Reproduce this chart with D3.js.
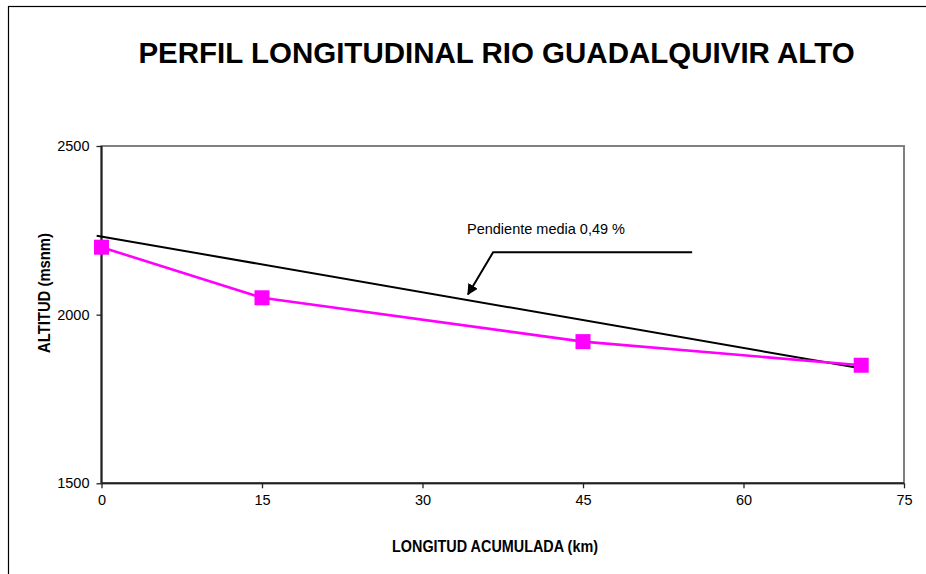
<!DOCTYPE html>
<html>
<head>
<meta charset="utf-8">
<script src="https://cdn.jsdelivr.net/npm/d3@7"></script>
<style>
  html, body { margin: 0; padding: 0; background: #fff; }
  svg { display: block; font-family: "Liberation Sans", Arial, sans-serif; }
</style>
</head>
<body>
<svg id="chart" width="926" height="574"></svg>
<script>
// ---- Data ----
const title = "PERFIL LONGITUDINAL RIO GUADALQUIVIR ALTO";
const xLabel = "LONGITUD ACUMULADA (km)";
const yLabel = "ALTITUD (msnm)";
const distanceKm = [0, 15, 45, 71];
const altitude = [2200, 2050, 1920, 1850];
const trendX = [-0.45, 70.4];
const trendY = [2234, 1844];
const xTicks = [0, 15, 30, 45, 60, 75];
const yTicks = [1500, 2000, 2500];
const annotationText = "Pendiente media 0,49 %";
const annotationPathX = [55.2, 36.6, 34.25];
const annotationPathY = [2185, 2185, 2060];

// ---- Layout ----
const svg = d3.select("#chart");
const pL = 101.5, pR = 904, pT = 146, pB = 483.3;

const x = d3.scaleLinear().domain([0, 75]).range([pL, pR]);
const y = d3.scaleLinear().domain([1500, 2500]).range([pB, pT]);

// outer frame
svg.append("rect")
  .attr("x", 8.5).attr("y", 6.5)
  .attr("width", 940).attr("height", 600)
  .attr("fill", "none").attr("stroke", "#000").attr("stroke-width", 1.2);

// title
svg.append("text")
  .attr("x", 496.5).attr("y", 63)
  .attr("text-anchor", "middle")
  .attr("font-size", 29.5).attr("font-weight", "bold")
  .attr("fill", "#000")
  .text(title);

// plot frame (gray top/right)
svg.append("rect")
  .attr("x", pL).attr("y", pT)
  .attr("width", pR - pL).attr("height", pB - pT)
  .attr("fill", "none").attr("stroke", "#808080").attr("stroke-width", 2);

// axes
const xAxis = d3.axisBottom(x).tickValues(xTicks).tickSize(5).tickPadding(6.5);
const gx = svg.append("g").attr("transform", `translate(0,${pB})`).call(xAxis);
const yAxis = d3.axisLeft(y).tickValues(yTicks).tickFormat(d3.format("d")).tickSize(5).tickPadding(7);
const gy = svg.append("g").attr("transform", `translate(${pL},0)`).call(yAxis);

[gx, gy].forEach(g => {
  g.select(".domain").attr("stroke", "#222").attr("stroke-width", 2);
  g.selectAll(".tick line").attr("stroke", "#222").attr("stroke-width", 1.3);
  g.selectAll(".tick text")
    .attr("font-family", "'Liberation Sans', Arial, sans-serif")
    .attr("font-size", 14.5).attr("fill", "#000");
});
gx.select(".domain").attr("d", `M${pL},0H${pR}`);
gy.select(".domain").attr("d", `M0,${pB}V${pT}`);

// axis labels
svg.append("text")
  .attr("x", 495).attr("y", 552)
  .attr("text-anchor", "middle")
  .attr("font-size", 16.5).attr("font-weight", "bold")
  .attr("textLength", 206).attr("lengthAdjust", "spacingAndGlyphs")
  .text(xLabel);

svg.append("text")
  .attr("transform", `translate(49.5,293) rotate(-90)`)
  .attr("text-anchor", "middle")
  .attr("font-size", 16.5).attr("font-weight", "bold")
  .attr("textLength", 120).attr("lengthAdjust", "spacingAndGlyphs")
  .text(yLabel);

// trend line
svg.append("line")
  .attr("x1", x(trendX[0])).attr("y1", y(trendY[0]))
  .attr("x2", x(trendX[1])).attr("y2", y(trendY[1]))
  .attr("stroke", "#000").attr("stroke-width", 2);

// data line
const pts = distanceKm.map((d, i) => [d, altitude[i]]);
svg.append("path")
  .datum(pts)
  .attr("fill", "none")
  .attr("stroke", "#FF00FF")
  .attr("stroke-width", 2.6)
  .attr("d", d3.line().x(d => x(d[0])).y(d => y(d[1])));

// markers
const ms = 15;
svg.selectAll("rect.marker")
  .data(pts)
  .join("rect")
  .attr("class", "marker")
  .attr("x", d => x(d[0]) - ms / 2)
  .attr("y", d => y(d[1]) - ms / 2)
  .attr("width", ms).attr("height", ms)
  .attr("fill", "#FF00FF");

// annotation
svg.append("defs").append("marker")
  .attr("id", "arrow")
  .attr("viewBox", "0 0 10 10")
  .attr("refX", 9).attr("refY", 5)
  .attr("markerWidth", 5.5).attr("markerHeight", 5.5)
  .attr("markerUnits", "strokeWidth")
  .attr("orient", "auto")
  .append("path")
  .attr("d", "M0,0 L10,5 L0,10 Z")
  .attr("fill", "#000");

const annPts = annotationPathX.map((d, i) => [x(d), y(annotationPathY[i])]);
svg.append("path")
  .attr("d", d3.line()(annPts))
  .attr("fill", "none")
  .attr("stroke", "#000")
  .attr("stroke-width", 2)
  .attr("marker-end", "url(#arrow)");

svg.append("text")
  .attr("x", 467).attr("y", 234)
  .attr("font-size", 14.5)
  .attr("fill", "#000")
  .text(annotationText);
</script>
</body>
</html>
